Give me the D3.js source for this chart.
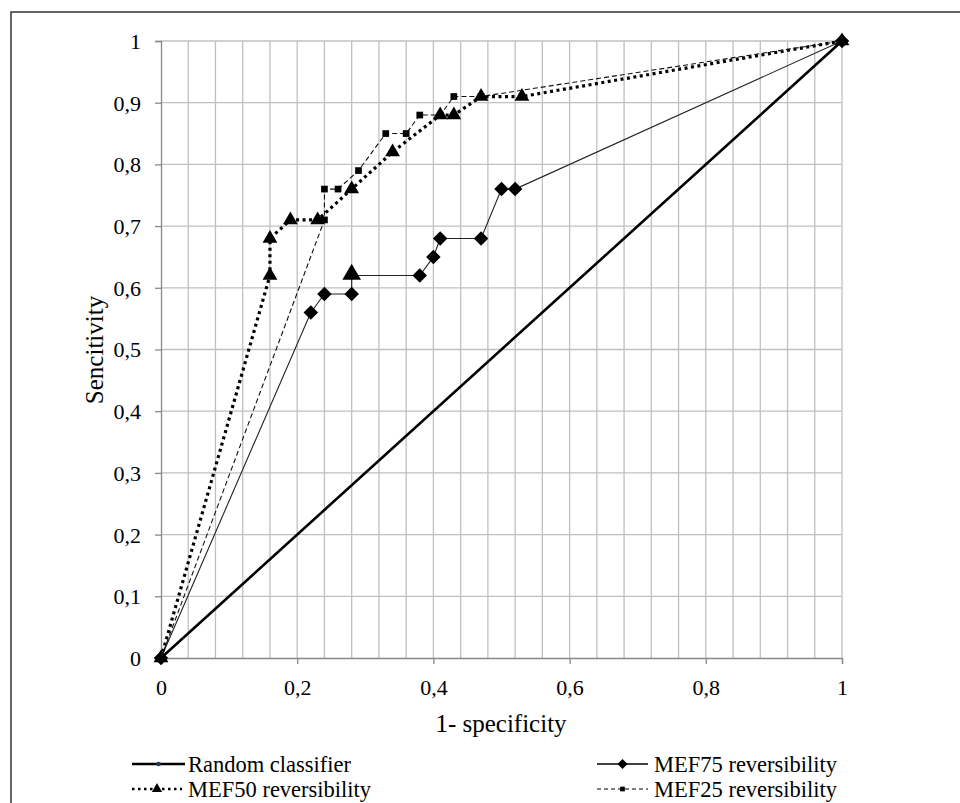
<!DOCTYPE html>
<html>
<head>
<meta charset="utf-8">
<script src="https://cdn.jsdelivr.net/npm/d3@7"></script>
<style>
  html, body { margin: 0; padding: 0; background: #fff; }
  svg { display: block; }
</style>
</head>
<body>
<svg id="chart" width="960" height="803"></svg>
<script>
// ---- data ----
const xTicks = [0, 0.2, 0.4, 0.6, 0.8, 1];
const xTickLabels = ["0", "0,2", "0,4", "0,6", "0,8", "1"];
const yTicks = [0, 0.1, 0.2, 0.3, 0.4, 0.5, 0.6, 0.7, 0.8, 0.9, 1];
const yTickLabels = ["0", "0,1", "0,2", "0,3", "0,4", "0,5", "0,6", "0,7", "0,8", "0,9", "1"];
const xGrid = d3.range(0, 26).map(i => +(i * 0.04).toFixed(2));

const randomX = [0, 1];
const randomY = [0, 1];
const mef75X = [0, 0.22, 0.24, 0.28, 0.28, 0.38, 0.40, 0.41, 0.47, 0.50, 0.52, 1];
const mef75Y = [0, 0.56, 0.59, 0.59, 0.62, 0.62, 0.65, 0.68, 0.68, 0.76, 0.76, 1];
const mef50X = [0, 0.16, 0.16, 0.19, 0.23, 0.28, 0.34, 0.41, 0.43, 0.47, 0.53, 1];
const mef50Y = [0, 0.62, 0.68, 0.71, 0.71, 0.76, 0.82, 0.88, 0.88, 0.91, 0.91, 1];
const mef25X = [0, 0.24, 0.24, 0.26, 0.29, 0.33, 0.36, 0.38, 0.41, 0.43, 0.47, 1];
const mef25Y = [0, 0.71, 0.76, 0.76, 0.79, 0.85, 0.85, 0.88, 0.88, 0.91, 0.91, 1];

const seriesNames = ["Random classifier", "MEF75 reversibility", "MEF50 reversibility", "MEF25 reversibility"];

// ---- layout ----
const FONT = "'Liberation Serif', 'Times New Roman', serif";
const svg = d3.select("#chart");
const x = d3.scaleLinear().domain([0, 1]).range([161, 842]);
const y = d3.scaleLinear().domain([0, 1]).range([658, 41]);

// outer frame
svg.append("rect").attr("x", 11).attr("y", 12).attr("width", 960).attr("height", 900)
  .attr("fill", "none").attr("stroke", "#333").attr("stroke-width", 1.5);

// grid
const grid = svg.append("g");
grid.selectAll("line.v").data(xGrid.slice(1)).join("line")
  .attr("x1", d => x(d)).attr("x2", d => x(d))
  .attr("y1", y(0)).attr("y2", y(1))
  .attr("stroke", "#c0c0c0").attr("stroke-width", 1.3);
grid.selectAll("line.h").data(yTicks.slice(1)).join("line")
  .attr("x1", x(0)).attr("x2", x(1))
  .attr("y1", d => y(d)).attr("y2", d => y(d))
  .attr("stroke", "#c0c0c0").attr("stroke-width", 1.3);

// axes
const xAxis = d3.axisBottom(x).tickValues(xTicks).tickSize(6).tickFormat((d, i) => xTickLabels[i]);
const yAxis = d3.axisLeft(y).tickValues(yTicks).tickSize(6).tickFormat((d, i) => yTickLabels[i]);
const gx = svg.append("g").attr("transform", `translate(0,${y(0)})`).call(xAxis);
const gy = svg.append("g").attr("transform", `translate(${x(0)},0)`).call(yAxis);
[gx, gy].forEach(g => {
  g.attr("font-family", null);
  g.select(".domain").attr("stroke", "#888").attr("stroke-width", 1.3);
  g.selectAll(".tick line").attr("stroke", "#888").attr("stroke-width", 1.3);
  g.selectAll(".tick text").attr("font-size", 22).attr("fill", "#000");
});
gx.selectAll(".tick text").attr("dy", "0.71em").attr("y", 21);
gy.selectAll(".tick text").attr("x", -20).attr("dy", "0.34em");

// axis titles
svg.append("text").attr("x", 501).attr("y", 732).attr("text-anchor", "middle")
  .attr("font-size", 25).text("1- specificity");
svg.append("text").attr("transform", `translate(103,350) rotate(-90)`).attr("text-anchor", "middle")
  .attr("font-size", 25).text("Sencitivity");

// series
const line = d3.line().x(d => x(d[0])).y(d => y(d[1]));
const zip = (a, b) => a.map((v, i) => [v, b[i]]);
const rnd = zip(randomX, randomY);
const m75 = zip(mef75X, mef75Y);
const m50 = zip(mef50X, mef50Y);
const m25 = zip(mef25X, mef25Y);

const plot = svg.append("g");
plot.append("path").datum(rnd).attr("d", line).attr("fill", "none")
  .attr("stroke", "#000").attr("stroke-width", 2.6);
plot.append("path").datum(m75).attr("d", line).attr("fill", "none")
  .attr("stroke", "#222").attr("stroke-width", 1.1);
plot.append("path").datum(m50).attr("d", line).attr("fill", "none")
  .attr("stroke", "#000").attr("stroke-width", 3.2).attr("stroke-dasharray", "3,3.5");
plot.append("path").datum(m25).attr("d", line).attr("fill", "none")
  .attr("stroke", "#111").attr("stroke-width", 1.1).attr("stroke-dasharray", "5,3");

const triangle = d3.symbol().type(d3.symbolTriangle).size(95)();
const square = d3.symbol().type(d3.symbolSquare).size(45)();

// MEF75 markers (the point at 0.28 / 0.62 shows a triangle marker in the original)
plot.selectAll("path.m75").data(m75).join("path")
  .attr("d", (d, i) => (i === 4 ? d3.symbol().type(d3.symbolTriangle).size(150)() : d3.symbol().type(d3.symbolSquare).size(105)()))
  .attr("transform", (d, i) => `translate(${x(d[0])},${y(d[1])})` + (i === 4 ? " translate(0,-1)" : " rotate(45)"))
  .attr("fill", "#000");
plot.selectAll("path.m50").data(m50).join("path")
  .attr("transform", d => `translate(${x(d[0])},${y(d[1])})`)
  .attr("d", triangle).attr("fill", "#000");
plot.selectAll("path.m25").data(m25).join("path")
  .attr("transform", d => `translate(${x(d[0])},${y(d[1])})`)
  .attr("d", square).attr("fill", "#000");

// legend
const lg = svg.append("g");
const rows = [
  {name: seriesNames[0], x0: 132, x1: 185, tx: 188, ty: 764, kind: "random"},
  {name: seriesNames[1], x0: 597, x1: 648, tx: 654, ty: 764, kind: "m75"},
  {name: seriesNames[2], x0: 132, x1: 182, tx: 188, ty: 789, kind: "m50"},
  {name: seriesNames[3], x0: 597, x1: 648, tx: 654, ty: 789, kind: "m25"}
];
rows.forEach(r => {
  const l = lg.append("line").attr("x1", r.x0).attr("x2", r.x1).attr("y1", r.ty).attr("y2", r.ty);
  const cx = (r.x0 + r.x1) / 2;
  if (r.kind === "random") {
    l.attr("stroke", "#000").attr("stroke-width", 2.4);
    lg.append("circle").attr("cx", cx).attr("cy", r.ty).attr("r", 2.3).attr("fill", "#1f3b5a");
  } else if (r.kind === "m75") {
    l.attr("stroke", "#000").attr("stroke-width", 1.3);
    lg.append("path").attr("d", d3.symbol().type(d3.symbolSquare).size(50)())
      .attr("transform", `translate(${cx},${r.ty}) rotate(45)`).attr("fill", "#000");
  } else if (r.kind === "m50") {
    l.attr("stroke", "#000").attr("stroke-width", 2.6).attr("stroke-dasharray", "2.5,3.5");
    lg.append("path").attr("d", d3.symbol().type(d3.symbolTriangle).size(45)())
      .attr("transform", `translate(${cx},${r.ty})`).attr("fill", "#000");
  } else {
    l.attr("stroke", "#000").attr("stroke-width", 1.1).attr("stroke-dasharray", "4,3");
    lg.append("path").attr("d", d3.symbol().type(d3.symbolSquare).size(22)())
      .attr("transform", `translate(${cx},${r.ty})`).attr("fill", "#000");
  }
  lg.append("text").attr("x", r.tx).attr("y", r.ty).attr("dy", "0.35em")
    .attr("font-size", 22.5).text(r.name);
});

// force the serif face on every text element
svg.selectAll("text").style("font-family", FONT).style("fill", "#000");
</script>
</body>
</html>
